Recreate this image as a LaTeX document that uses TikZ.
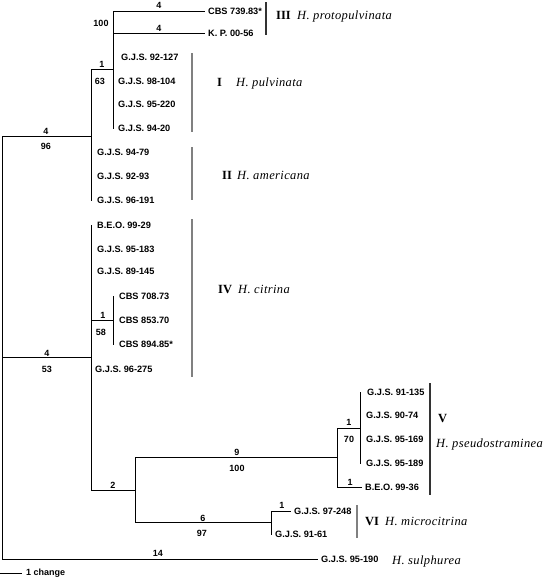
\documentclass[tikz,border=0pt]{standalone}
\usepackage{fontspec}
\setmainfont{Liberation Serif}
\setsansfont{Liberation Sans}
\newfontfamily\spcfont[LetterSpace=3]{Liberation Serif}
\tikzset{
 br/.style={line width=1pt, line cap=rect},
 leaf/.style={anchor=west, inner xsep=4pt, inner ysep=0pt, font=\sffamily\bfseries\fontsize{9.2}{10}\selectfont},
 blab/.style={inner sep=0pt, font=\sffamily\bfseries\fontsize{9}{10}\selectfont},
 grp/.style={anchor=base west, inner sep=0pt, font=\rmfamily\bfseries\fontsize{12.5}{14}\selectfont},
 spc/.style={anchor=base west, inner sep=0pt, font=\spcfont\itshape\fontsize{12.5}{14}\selectfont},
 brk/.style={line width=1.8pt, draw=black!50},
 brkd/.style={line width=1.5pt, draw=black!80},
}
\begin{document}
\begin{tikzpicture}[x=1pt,y=-1pt]
\useasboundingbox (0,0) rectangle (545,579);
% internal nodes
\coordinate (root) at (2,347.5);
\coordinate (nA) at (91,136);
\coordinate (n3) at (113,69);
\coordinate (nB) at (91,357);
\coordinate (n4) at (113,320);
\coordinate (n5) at (135,490);
\coordinate (n6) at (337,457);
\coordinate (n7) at (360,428);
\coordinate (n8) at (271,522.5);
% leaves
\node[leaf] (cbs73983) at (204,11) {CBS 739.83*};
\node[leaf] (kp) at (204,33) {K. P. 00-56};
\node[leaf] (g92127) at (117,57) {G.J.S. 92-127};
\node[leaf] (g98104) at (114,81) {G.J.S. 98-104};
\node[leaf] (g95220) at (114,104) {G.J.S. 95-220};
\node[leaf] (g9420) at (114,128) {G.J.S. 94-20};
\node[leaf] (g9479) at (93,152) {G.J.S. 94-79};
\node[leaf] (g9293) at (93,176) {G.J.S. 92-93};
\node[leaf] (g96191) at (93,200) {G.J.S. 96-191};
\node[leaf] (beo9929) at (93,225) {B.E.O. 99-29};
\node[leaf] (g95183) at (93,249) {G.J.S. 95-183};
\node[leaf] (g89145) at (93,271) {G.J.S. 89-145};
\node[leaf] (cbs70873) at (115,296) {CBS 708.73};
\node[leaf] (cbs85370) at (115,320) {CBS 853.70};
\node[leaf] (cbs89485) at (115,344) {CBS 894.85*};
\node[leaf] (g96275) at (91,369) {G.J.S. 96-275};
\node[leaf] (g91135) at (363,392) {G.J.S. 91-135};
\node[leaf] (g9074) at (362,415) {G.J.S. 90-74};
\node[leaf] (g95169) at (362,439) {G.J.S. 95-169};
\node[leaf] (g95189) at (362,463) {G.J.S. 95-189};
\node[leaf] (beo9936) at (361,487) {B.E.O. 99-36};
\node[leaf] (g97248) at (290,511) {G.J.S. 97-248};
\node[leaf] (g9161) at (271,534) {G.J.S. 91-61};
\node[leaf] (sulph) at (317,559) {G.J.S. 95-190};
% branches
\draw[br] (root) |- (nA);
\draw[br] (root) |- (nB);
\draw[br] (root) |- (sulph.west);
\draw[br] (nA) |- (n3);
\draw[br] (nA) -- (nA |- g96191.west);
\draw[br] (n3 |- cbs73983.west) -- (n3 |- g9420.west);
\draw[br] (n3 |- cbs73983.west) -- (cbs73983.west);
\draw[br] (n3 |- kp.west) -- (kp.west);
\draw[br] (nB |- beo9929.west) -- (nB |- n5);
\draw[br] (nB) |- (n4);
\draw[br] (n4 |- cbs70873.west) -- (n4 |- cbs89485.west);
\draw[br] (nB) |- (n5);
\draw[br] (n5 |- n6) -- (n5 |- n8);
\draw[br] (n5 |- n6) -- (n6);
\draw[br] (n5 |- n8) -- (n8);
\draw[br] (n6 |- n7) -- (n6 |- beo9936.west);
\draw[br] (n6) -- (n6 |- n7) -- (n7);
\draw[br] (n6 |- beo9936.west) -- (beo9936.west);
\draw[br] (n7 |- g91135.west) -- (n7 |- g95189.west);
\draw[br] (n8 |- g97248.west) -- (n8 |- g9161.west);
\draw[br] (n8 |- g97248.west) -- (g97248.west);
% branch labels
\node[blab] (la1) at (159,5) {4};
\node[blab] (la2) at (159,28) {4};
\node[blab] (la3) at (101,23) {100};
\node[blab] (la4) at (102,64) {1};
\node[blab] (la5) at (100,81) {63};
\node[blab] (la6) at (46,131) {4};
\node[blab] (la7) at (46,146) {96};
\node[blab] (la8) at (103,315) {1};
\node[blab] (la9) at (101,332) {58};
\node[blab] (la10) at (47,353) {4};
\node[blab] (la11) at (47,369) {53};
\node[blab] (la12) at (113,485) {2};
\node[blab] (la13) at (237,452) {9};
\node[blab] (la14) at (237,468) {100};
\node[blab] (la15) at (349,422) {1};
\node[blab] (la16) at (349,439) {70};
\node[blab] (la17) at (350,482) {1};
\node[blab] (la18) at (203,518) {6};
\node[blab] (la19) at (202,533) {97};
\node[blab] (la20) at (282,505) {1};
\node[blab] (la21) at (158,553) {14};
% brackets
\coordinate (b3t) at (266,2);  \coordinate (b3b) at (266,35);
\coordinate (b1t) at (192,53); \coordinate (b1b) at (192,132);
\coordinate (b2t) at (192,147); \coordinate (b2b) at (192,200);
\coordinate (b4t) at (192,219); \coordinate (b4b) at (192,377);
\coordinate (b5t) at (430,383); \coordinate (b5b) at (430,495);
\coordinate (b6t) at (357,505); \coordinate (b6b) at (357,538);
\draw[brkd] (b3t) -- (b3b);
\draw[brk] (b1t) -- (b1b);
\draw[brk] (b2t) -- (b2b);
\draw[brk] (b4t) -- (b4b);
\draw[brkd] (b5t) -- (b5b);
\draw[brk] (b6t) -- (b6b);
% group labels
\node[grp] (gIII) at (276,19.2) {III};
\node[spc] (sIII) at (297,19.2) {H. protopulvinata};
\node[grp] (gI) at (217,86.2) {I};
\node[spc] (sI) at (236,86.2) {H. pulvinata};
\node[grp] (gII) at (222,179.2) {II};
\node[spc] (sII) at (237,179.2) {H. americana};
\node[grp] (gIV) at (218,293.2) {IV};
\node[spc] (sIV) at (238,293.2) {H. citrina};
\node[grp] (gV) at (438,422.2) {V};
\node[spc] (sV) at (436,447.2) {H. pseudostraminea};
\node[grp] (gVI) at (365,525.2) {VI};
\node[spc] (sVI) at (385,525.2) {H. microcitrina};
\node[spc] (sVII) at (392,564.2) {H. sulphurea};
% scale bar
\coordinate (sb0) at (0,573);
\coordinate (sb1) at (22,573);
\draw[line width=1pt] (sb0) -- (sb1);
\node[blab, anchor=west] (sbl) at (26,573) {1 change};
\end{tikzpicture}
\end{document}
